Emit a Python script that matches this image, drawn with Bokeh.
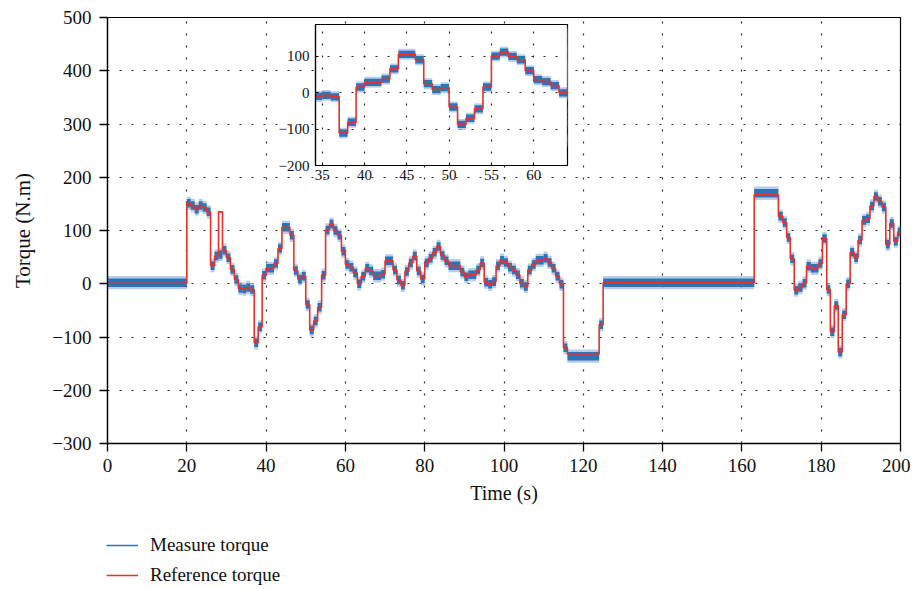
from bokeh.plotting import figure
from bokeh.models import Range1d, Legend, LegendItem, FixedTicker
from bokeh.embed import file_html
from bokeh.resources import INLINE

# ---- data ----
step_start = [0, 20, 21, 22, 23, 24, 25, 26, 27, 28, 29, 30, 31, 32, 33, 34, 35, 36, 37, 38,
              39, 40, 42, 43, 44, 46, 47, 48, 49, 50, 51, 52, 53, 54, 55, 56, 57, 58, 59, 60,
              61, 62, 63, 64, 65, 66, 67, 69, 70, 72, 73, 74, 75, 76, 77, 78, 79, 80, 81, 82,
              83, 84, 85, 86, 89, 90, 91, 93, 94, 95, 96, 97, 98, 99, 100, 101, 102, 103, 104, 105,
              106, 107, 108, 110, 111, 112, 113, 114, 115, 116, 124, 125, 163.1, 169.2, 170.3, 171.3, 172.2, 173.2, 174.2, 175.3,
              176.3, 177.4, 179.3, 180.3, 181.4, 182.3, 183.3, 184.3, 185.3, 186.3, 187.3, 188.3, 189.3, 190.3,
              191.3, 192.3, 193.3, 194.3, 195.3, 196.3, 197.3, 198.3, 199.3]
t_end = 200
ref_torque = [1, 151, 147, 140, 147, 143, 135, 34, 52, 135, 63, 49, 27, 8, -9, -10, -7, -11, -111, -81,
              16, 29, 38, 66, 106, 91, 25, 9, 14, -39, -87, -70, -44, 16, 101, 112, 100, 91, 61, 36,
              31, 20, 0, 14, 29, 24, 15, 18, 43, 26, 7, -3, 23, 39, 52, 24, 9, 39, 48, 59,
              70, 53, 43, 34, 22, 13, 17, 26, 39, 3, -1, 4, 34, 44, 40, 31, 26, 17, 1, -5,
              26, 36, 44, 48, 40, 29, 14, -1, -120, -132, -77, 2, 167, 127, 115, 87, 47, -12, -7, 1,
              33, 29, 38, 85, -11, -90, -41, -128, -58, 0, 59, 49, 82, 119, 122, 146, 164, 155, 144, 74,
              113, 80, 97]
meas_torque = [2, 151, 147, 140, 147, 143, 135, 34, 52, 55, 63, 49, 27, 8, -9, -10, -7, -11, -111, -81,
               16, 29, 38, 66, 106, 91, 25, 9, 14, -39, -87, -70, -44, 16, 101, 112, 100, 91, 61, 36,
               31, 20, 0, 14, 29, 24, 15, 18, 43, 26, 7, -3, 23, 39, 52, 24, 9, 39, 48, 59,
               70, 53, 43, 34, 22, 13, 17, 26, 39, 3, -1, 4, 34, 44, 40, 31, 26, 17, 1, -5,
               26, 36, 44, 48, 40, 29, 14, -1, -120, -136, -77, 2, 170, 127, 115, 87, 47, -12, -7, 1,
               33, 29, 38, 85, -11, -90, -41, -128, -58, 0, 59, 49, 82, 119, 122, 146, 164, 155, 144, 74,
               113, 80, 97]

x_ticks = [0, 20, 40, 60, 80, 100, 120, 140, 160, 180, 200]
y_ticks = [-300, -200, -100, 0, 100, 200, 300, 400, 500]
inset_x_ticks = [35, 40, 45, 50, 55, 60]
inset_y_ticks = [-200, -100, 0, 100]
series_names = ["Measure torque", "Reference torque"]

step_end = step_start[1:] + [t_end]
ref_x, ref_y = [], []
for s, e, v in zip(step_start, step_end, ref_torque):
    ref_x += [s, e]
    ref_y += [v, v]

FONT = "Liberation Serif"
BLUE = "#3072b6"
HALO = "#86aedc"
RED = "#e8302a"
GRID = "#2a2a2a"
TXT = "#111111"


def minus(v):
    return str(v).replace("-", "\u2212")


def place(left, top):
    return [":host { position: absolute !important; left: %dpx !important; top: %dpx !important; }" % (left, top)]


def draw_series(fig, band, halo):
    fig.hbar(y=meas_torque, left=step_start, right=step_end, height=halo,
             fill_color=HALO, fill_alpha=0.6, line_color=None)
    fig.hbar(y=meas_torque, left=step_start, right=step_end, height=band,
             fill_color=BLUE, line_color=None)
    fig.line(ref_x, ref_y, line_color=RED, line_width=1.6)


# ---- main figure ----
p = figure(width=902, height=505, x_range=Range1d(0, 200), y_range=Range1d(-300, 500),
           output_backend="svg", toolbar_location=None,
           min_border_left=98, min_border_right=10, min_border_top=9, min_border_bottom=70,
           background_fill_color="white", border_fill_color="white",
           stylesheets=place(8, 8))
p.outline_line_color = "black"
p.outline_line_width = 1.2

draw_series(p, 16, 25)

for ax in (p.xaxis[0], p.yaxis[0]):
    ax.axis_line_width = 1.3
    ax.axis_line_color = "black"
    ax.major_tick_out = 8
    ax.major_tick_in = 0
    ax.minor_tick_out = 0
    ax.minor_tick_in = 0
    ax.major_tick_line_width = 1.3
    ax.major_label_text_font = FONT
    ax.major_label_text_font_size = "19px"
    ax.major_label_text_color = TXT
    ax.axis_label_text_font = FONT
    ax.axis_label_text_font_style = "normal"
    ax.axis_label_text_color = TXT

p.xaxis.ticker = FixedTicker(ticks=x_ticks)
p.yaxis.ticker = FixedTicker(ticks=y_ticks)
p.yaxis.major_label_overrides = {v: minus(v) for v in y_ticks}
p.xaxis.axis_label = "Time (s)"
p.yaxis.axis_label = "Torque (N.m)"
p.xaxis.axis_label_text_font_size = "20px"
p.yaxis.axis_label_text_font_size = "21px"
p.xaxis.major_label_standoff = 7
p.xaxis.axis_label_standoff = 7
p.yaxis.major_label_standoff = 8
p.yaxis.axis_label_standoff = 14

p.xgrid.ticker = FixedTicker(ticks=x_ticks[1:-1])
p.ygrid.ticker = FixedTicker(ticks=y_ticks[1:-1])
for g in (p.xgrid[0], p.ygrid[0]):
    g.grid_line_color = GRID
    g.grid_line_dash = "2 10"
    g.grid_line_width = 1.2

# ---- inset figure ----
inset = figure(width=297, height=168, x_range=Range1d(34.2, 64), y_range=Range1d(-200, 188),
               output_backend="svg", toolbar_location=None,
               min_border_left=43, min_border_right=2, min_border_top=2, min_border_bottom=25,
               background_fill_color="white", border_fill_color=None, border_fill_alpha=0,
               stylesheets=place(272, 22))
inset.outline_line_color = "black"
inset.outline_line_width = 1.2
draw_series(inset, 20, 30)

for ax in (inset.xaxis[0], inset.yaxis[0]):
    ax.axis_line_width = 1.2
    ax.major_tick_out = 0
    ax.major_tick_in = 3
    ax.minor_tick_out = 0
    ax.minor_tick_in = 0
    ax.major_label_text_font = FONT
    ax.major_label_text_font_size = "15px"
    ax.major_label_text_color = TXT
inset.xaxis.ticker = FixedTicker(ticks=inset_x_ticks)
inset.yaxis.ticker = FixedTicker(ticks=inset_y_ticks)
inset.yaxis.major_label_overrides = {v: minus(v) for v in inset_y_ticks}
inset.xaxis.major_label_standoff = 4
inset.yaxis.major_label_standoff = 6
inset.xgrid.ticker = FixedTicker(ticks=inset_x_ticks)
inset.ygrid.ticker = FixedTicker(ticks=inset_y_ticks[1:])
for g in (inset.xgrid[0], inset.ygrid[0]):
    g.grid_line_color = GRID
    g.grid_line_dash = "2 10"
    g.grid_line_width = 1.2

# ---- legend (below the chart) ----
# the series are drawn here too, but the ranges keep them out of view; only the legend shows
lf = figure(width=260, height=52, x_range=Range1d(0, 1), y_range=Range1d(1000, 1001),
            output_backend="svg", toolbar_location=None, x_axis_type=None, y_axis_type=None,
            min_border=0, outline_line_color=None,
            background_fill_alpha=0, border_fill_alpha=0,
            stylesheets=place(106, 534))
lf.grid.visible = False
lm = lf.line(step_start, meas_torque, line_color=BLUE, line_width=1.5)
lr = lf.line(ref_x, ref_y, line_color=RED, line_width=1.5)
legend = Legend(items=[LegendItem(label=series_names[0], renderers=[lm]),
                       LegendItem(label=series_names[1], renderers=[lr])],
                location="top_left", orientation="vertical",
                label_text_font=FONT, label_text_font_size="19px", label_text_color=TXT,
                glyph_width=32, label_standoff=12, spacing=8, padding=0, margin=0,
                border_line_color=None, background_fill_alpha=0)
lf.add_layout(legend)

open("out.html", "w").write(file_html([p, inset, lf], INLINE))
